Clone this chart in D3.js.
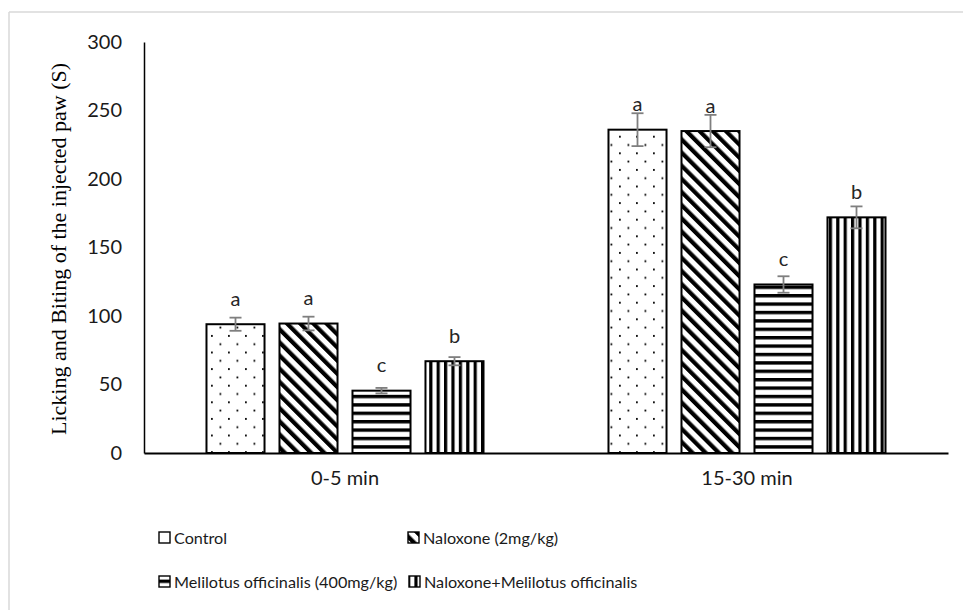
<!DOCTYPE html>
<html>
<head>
<meta charset="utf-8">
<script src="https://cdn.jsdelivr.net/npm/d3@7/dist/d3.min.js"></script>
<style>
  html, body { margin: 0; padding: 0; background: #fff; }
  svg { display: block; }
</style>
</head>
<body>
<svg id="chart" width="963" height="610"></svg>
<script>
// ---- data ----
const categories = ["0-5 min", "15-30 min"];
const seriesNames = ["Control", "Naloxone (2mg/kg)", "Melilotus officinalis (400mg/kg)", "Naloxone+Melilotus officinalis"];
const controlValues   = [94, 236];
const naloxoneValues  = [94.5, 235];
const melilotusValues = [45.5, 123];
const comboValues     = [67, 172];
const controlErr   = [4.8, 12];
const naloxoneErr  = [5, 11.8];
const melilotusErr = [2, 6];
const comboErr     = [3, 8];
const controlLetters   = ["a", "a"];
const naloxoneLetters  = ["a", "a"];
const melilotusLetters = ["c", "c"];
const comboLetters     = ["b", "b"];
const yTicks = [0, 50, 100, 150, 200, 250, 300];
const yTitle = "Licking and Biting of the injected paw (S)";

const seriesValues = [controlValues, naloxoneValues, melilotusValues, comboValues];
const seriesErrs = [controlErr, naloxoneErr, melilotusErr, comboErr];
const seriesLetters = [controlLetters, naloxoneLetters, melilotusLetters, comboLetters];
const patternIds = ["pDots", "pDiag", "pHoriz", "pVert"];

const rows = [];
categories.forEach((c, ci) => {
  seriesNames.forEach((s, si) => {
    rows.push({cat: c, series: s, si, value: seriesValues[si][ci], err: seriesErrs[si][ci], letter: seriesLetters[si][ci]});
  });
});

// ---- layout ----
const svg = d3.select("#chart");
const plotLeft = 144, plotRight = 948, plotTop = 42, plotBottom = 453;

// frame lines (left & top only visible)
svg.append("line").attr("x1", 9).attr("y1", 12).attr("x2", 963).attr("y2", 12)
  .attr("stroke", "#d9d9d9").attr("stroke-width", 1.5);
svg.append("line").attr("x1", 9).attr("y1", 12).attr("x2", 9).attr("y2", 610)
  .attr("stroke", "#d9d9d9").attr("stroke-width", 1.5);

// patterns
const defs = svg.append("defs");
const dots = defs.append("pattern").attr("id", "pDots").attr("patternUnits", "userSpaceOnUse")
  .attr("width", 17).attr("height", 16.6).attr("x", 208).attr("y", 0);
dots.append("rect").attr("width", 17).attr("height", 16.6).attr("fill", "#fff");
dots.append("rect").attr("x", 3).attr("y", 3).attr("width", 1.8).attr("height", 1.8).attr("fill", "#000");
dots.append("rect").attr("x", 11.5).attr("y", 11.3).attr("width", 1.8).attr("height", 1.8).attr("fill", "#000");

const diag = defs.append("pattern").attr("id", "pDiag").attr("patternUnits", "userSpaceOnUse")
  .attr("width", 9.3).attr("height", 20).attr("patternTransform", "rotate(-45)");
diag.append("rect").attr("width", 9.3).attr("height", 20).attr("fill", "#fff");
diag.append("rect").attr("width", 4.2).attr("height", 20).attr("fill", "#000");

const horiz = defs.append("pattern").attr("id", "pHoriz").attr("patternUnits", "userSpaceOnUse")
  .attr("width", 10).attr("height", 8.4);
horiz.append("rect").attr("width", 10).attr("height", 8.4).attr("fill", "#fff");
horiz.append("rect").attr("width", 10).attr("height", 3.4).attr("fill", "#000");

const vert = defs.append("pattern").attr("id", "pVert").attr("patternUnits", "userSpaceOnUse")
  .attr("width", 7.4).attr("height", 10);
vert.append("rect").attr("width", 7.4).attr("height", 10).attr("fill", "#fff");
vert.append("rect").attr("width", 3.2).attr("height", 10).attr("fill", "#000");

// scales
const x0 = d3.scaleBand().domain(categories).range([plotLeft, plotRight]).paddingInner(0).paddingOuter(0);
const x1 = d3.scaleBand().domain(seriesNames).range([0, x0.bandwidth()]).paddingInner(0.205).paddingOuter(0.856);
const y = d3.scaleLinear().domain([0, 300]).range([plotBottom, plotTop]);

const tickFont = "Lato, 'Open Sans', sans-serif";

// y axis
const yAxis = svg.append("g").attr("transform", `translate(${plotLeft},0)`)
  .call(d3.axisLeft(y).tickValues(yTicks).tickSize(0).tickPadding(22));
yAxis.select(".domain").attr("stroke", "#000").attr("stroke-width", 1.5);
yAxis.selectAll("text").attr("font-family", tickFont).attr("font-size", 20).attr("fill", "#1a1a1a");

// bars
const g = svg.append("g");
g.selectAll("rect.bar").data(rows).enter().append("rect").attr("class", "bar")
  .attr("x", d => x0(d.cat) + x1(d.series))
  .attr("y", d => y(d.value))
  .attr("width", x1.bandwidth())
  .attr("height", d => y(0) - y(d.value))
  .attr("fill", d => `url(#${patternIds[d.si]})`)
  .attr("stroke", "#000").attr("stroke-width", 2);

// error bars
const eg = svg.append("g").attr("stroke", "#7f7f7f").attr("stroke-width", 1.8);
rows.forEach(d => {
  const cx = x0(d.cat) + x1(d.series) + x1.bandwidth() / 2;
  const yt = y(d.value + d.err), yb = y(d.value - d.err);
  eg.append("line").attr("x1", cx).attr("x2", cx).attr("y1", yt).attr("y2", yb);
  eg.append("line").attr("x1", cx - 6).attr("x2", cx + 6).attr("y1", yt).attr("y2", yt);
  eg.append("line").attr("x1", cx - 6).attr("x2", cx + 6).attr("y1", yb).attr("y2", yb);
});

// letters
svg.append("g").selectAll("text").data(rows).enter().append("text")
  .attr("x", d => x0(d.cat) + x1(d.series) + x1.bandwidth() / 2)
  .attr("y", d => y(d.value) - 18.5)
  .attr("text-anchor", "middle")
  .attr("font-family", tickFont).attr("font-size", 20).attr("fill", "#262626")
  .text(d => d.letter);

// x axis
const xAxis = svg.append("g").attr("transform", `translate(0,${plotBottom})`)
  .call(d3.axisBottom(x0).tickSize(0).tickPadding(18).tickSizeOuter(0));
xAxis.select(".domain").attr("stroke", "#000").attr("stroke-width", 2);
xAxis.selectAll("text").attr("font-family", tickFont).attr("font-size", 20).attr("fill", "#1a1a1a");

// y title
svg.append("text")
  .attr("transform", "translate(66,249) rotate(-90)")
  .attr("text-anchor", "middle")
  .attr("font-family", "'Liberation Serif', 'Times New Roman', serif")
  .attr("font-size", 22).attr("fill", "#000")
  .text(yTitle);

// legend
const legendPos = [[159, 538], [408, 538], [159, 582], [409, 582]];
const lg = svg.append("g");
seriesNames.forEach((s, i) => {
  const [lx, ly] = legendPos[i];
  lg.append("rect").attr("x", lx).attr("y", ly - 6).attr("width", 11).attr("height", 11)
    .attr("fill", i === 0 ? "#fff" : `url(#${patternIds[i]})`).attr("stroke", "#000").attr("stroke-width", 1.4);
  lg.append("text").attr("x", lx + 15).attr("y", ly).attr("dy", "0.35em")
    .attr("font-family", tickFont).attr("font-size", 16.2).attr("fill", "#1a1a1a")
    .text(s);
});
</script>
</body>
</html>
